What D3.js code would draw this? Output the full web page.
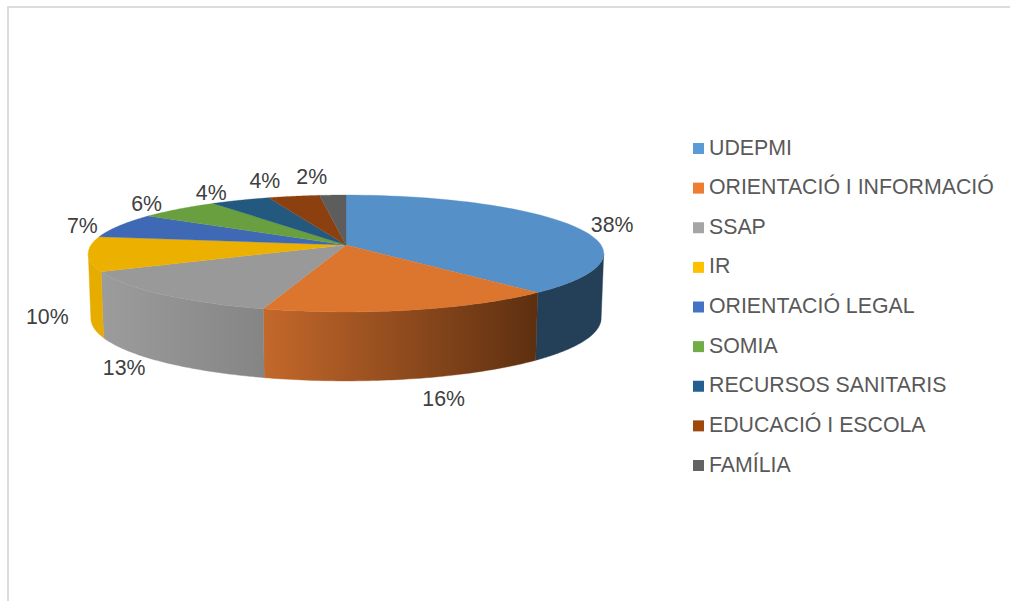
<!DOCTYPE html>
<html><head><meta charset="utf-8">
<style>html,body{margin:0;padding:0;background:#fff}svg{display:block}text{font-family:"Liberation Sans",Arial,sans-serif}</style>
<script src="https://cdn.jsdelivr.net/npm/d3@7"></script></head>
<body><div id="chart"></div>
<script>
const categories = ["UDEPMI","ORIENTACIÓ I INFORMACIÓ","SSAP","IR","ORIENTACIÓ LEGAL","SOMIA","RECURSOS SANITARIS","EDUCACIÓ I ESCOLA","FAMÍLIA"];
const values = [38.3,16.2,13.3,9.55,6.85,5.9,4.3,3.7,1.9];
const legendColors = ["#5B9BD5","#ED7D31","#A5A5A5","#FFC000","#4472C4","#70AD47","#255E91","#9E480E","#636363"];
const topColors = ["#5590C8","#DC752D","#999999","#ECB000","#3F69B5","#699F3F","#23587F","#8D400F","#5D5D5D"];
// label nudges from the projected rim anchor (layout, not data)
const labelNudges = [[40,0],[31,20],[-37,6],[-41,-2],[-37,0],[-32,-5],[-29,-7],[-29,-15],[-21,-18]];

const W=1010,H=601;
const svg=d3.select("#chart").append("svg").attr("width",W).attr("height",H);
const defs=svg.append("defs");

// frame: only the top and left edges show in the crop
svg.append("path").attr("d",d3.line()([[8,H],[8,7],[W,7]]))
  .attr("fill","none").attr("stroke","#dcdcdc").attr("stroke-width",2);

// perspective projection of the pie disc
const cx=346, apexY=245, R=255, persp=-0.145, yA=21.7;
const project=(theta,r=1)=>{
  const u=r*Math.sin(theta), v=-r*Math.cos(theta), d=persp*v+1;
  return [cx+R*u/d,(yA*v+apexY)/d];
};
const projectBottom=(theta)=>{
  const [x,y]=project(theta), v=-Math.cos(theta);
  return [cx+(x-cx)*0.99,y+64+5*v];
};
const silh=Math.asin(-persp);            // rim silhouette angle
const wallStart=Math.PI/2+silh, wallEnd=3*Math.PI/2-silh;

const arcs=d3.pie().sort(null).value(d=>d)(values);
const sampler=(a,b)=>d3.range(0,61).map(i=>a+(b-a)*i/60);
const line=d3.line();

// wall fills
const grad=(id,x1,x2,c1,c2)=>{
  const g=defs.append("linearGradient").attr("id",id).attr("gradientUnits","userSpaceOnUse")
    .attr("x1",x1).attr("x2",x2).attr("y1",0).attr("y2",0);
  g.append("stop").attr("offset",0).attr("stop-color",c1);
  g.append("stop").attr("offset",1).attr("stop-color",c2);
  return `url(#${id})`;
};
const wallFill=[
  "#243F58",
  grad("w1",project(arcs[1].endAngle)[0],project(arcs[1].startAngle)[0],"#C4682B","#5D2F10"),
  grad("w2",project(arcs[2].endAngle)[0],project(arcs[2].startAngle)[0],"#9C9C9C","#858585"),
  "#E6AC00"
];

const walls=svg.append("g");
arcs.forEach((a,i)=>{
  const s=Math.max(a.startAngle,wallStart), e=Math.min(a.endAngle,wallEnd);
  if(e<=s) return;
  const t=sampler(s,e);
  walls.append("path").attr("d",line([...t.map(x=>project(x)),...t.slice().reverse().map(projectBottom)])+"Z")
    .attr("fill",wallFill[i]).attr("stroke",wallFill[i]).attr("stroke-width",0.4);
});

// top surface
const topG=svg.append("g");
arcs.forEach((a,i)=>{
  const pts=[project(0,0),...sampler(a.startAngle,a.endAngle).map(x=>project(x))];
  topG.append("path").attr("d",line(pts)+"Z").attr("fill",topColors[i]).attr("stroke",topColors[i]).attr("stroke-width",0.3);
});

// data labels
const pct=d3.format(".0f"), total=d3.sum(values);
svg.append("g").selectAll("text").data(arcs).join("text")
  .attr("x",(a,i)=>{const m=(a.startAngle+a.endAngle)/2;return project(m)[0]+labelNudges[i][0];})
  .attr("y",(a,i)=>{const m=(a.startAngle+a.endAngle)/2;
    const front=m>wallStart&&m<wallEnd;
    return (front?projectBottom(m)[1]:project(m)[1])+labelNudges[i][1];})
  .attr("text-anchor","middle").attr("dominant-baseline","central")
  .attr("font-size",21.3).attr("fill","#404040")
  .text(a=>pct(a.value/total*100)+"%");

// legend
const legendY=d3.scalePoint().domain(categories).range([148.5,465.5]);
const leg=svg.append("g").selectAll("g").data(categories).join("g")
  .attr("transform",d=>`translate(693,${legendY(d)})`);
leg.append("rect").attr("x",0).attr("y",-5.5).attr("width",11).attr("height",11)
  .attr("fill",(d,i)=>legendColors[i]);
leg.append("text").attr("x",16).attr("y",-1).attr("dominant-baseline","central")
  .attr("font-size",21.3).attr("fill","#595959").text(d=>d);
</script></body></html>
